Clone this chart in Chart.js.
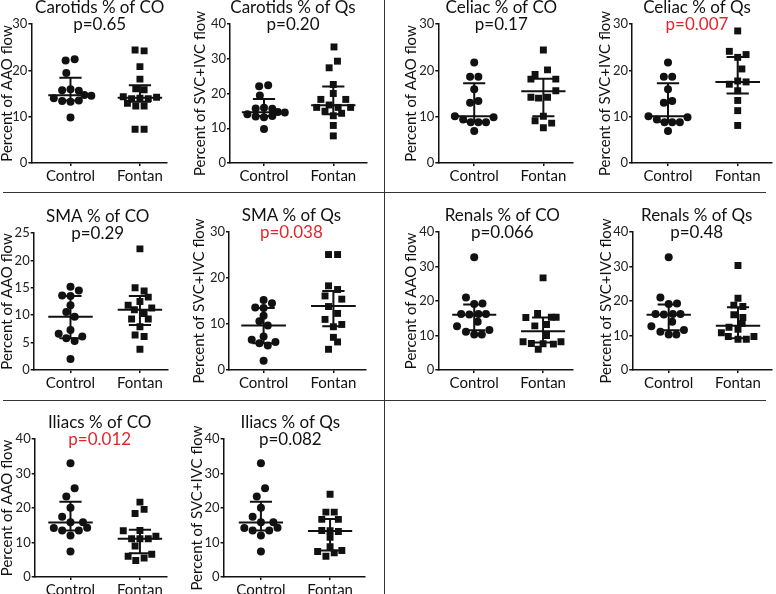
<!DOCTYPE html>
<html>
<head>
<meta charset="utf-8">
<script src="https://cdn.jsdelivr.net/npm/chart.js@4.4.1/dist/chart.umd.min.js"></script>
<style>
  body { margin: 0; background: #fff; width: 776px; height: 594px; overflow: hidden; position: relative; }
  canvas { position: absolute; }
  .sep { position: absolute; background: #333; }
</style>
</head>
<body>
<div class="sep" style="left:3px;top:192px;width:763px;height:1px"></div>
<div class="sep" style="left:3px;top:400px;width:763px;height:1px"></div>
<div class="sep" style="left:384px;top:0;width:1px;height:594px"></div>
<script>
const groups = ['Control', 'Fontan'];

// values; *Jit = horizontal scatter offset, stats = [q1, median, q3]
const carotidCtrl = [22.1, 22.4, 19.4, 15.7, 15.9, 15.6, 14.0, 13.4, 13.2, 13.5, 14.7, 14.5, 9.8];
const carotidCtrlJit = [-0.07, 0.06, -0.06, -0.12, 0, 0.12, -0.24, -0.12, 0, 0.12, 0.2, 0.3, 0];
const carotidCtrlStats = [13.5, 14.6, 18.4];
const carotidFonCO = [24.4, 24.2, 20.8, 18.1, 16.0, 15.8, 14.3, 13.9, 14.0, 13.9, 14.2, 12.9, 12.3, 12.3, 7.3, 7.3];
const carotidFonCOJit = [-0.07, 0.06, 0, 0, -0.06, 0.06, -0.24, -0.12, 0, 0.12, 0.24, -0.18, -0.06, 0.06, -0.07, 0.06];
const carotidFonCOStats = [13.2, 14.1, 16.8];
const carotidFonQs = [33.4, 29.3, 27.4, 22.6, 20.0, 18.3, 18.3, 16.0, 16.7, 16.0, 16.0, 14.9, 13.6, 14.3, 10.8, 7.8];
const carotidFonQsJit = [0.01, 0.06, -0.06, 0, 0, -0.18, 0.18, -0.24, -0.06, 0.07, 0.25, -0.12, 0, 0.12, 0, 0];
const carotidFonQsStats = [14.0, 16.6, 22.0];

const celiacCtrl = [21.7, 18.6, 18.6, 15.9, 13.0, 13.4, 10.1, 9.9, 9.4, 8.8, 8.8, 8.8, 6.9];
const celiacCtrlJit = [0, -0.06, 0.06, 0, -0.06, 0.06, -0.28, 0.28, -0.16, -0.05, 0.06, 0.17, 0];
const celiacCtrlStats = [8.9, 10.1, 17.2];
const celiacFonCO = [24.4, 19.1, 20.1, 18.1, 18.1, 15.6, 14.2, 14.0, 14.2, 10.1, 9.1, 8.6, 7.6];
const celiacFonCOJit = [0, -0.12, 0.06, -0.18, 0.18, 0.18, -0.18, -0.07, 0.06, 0, -0.12, 0.12, 0];
const celiacFonCOStats = [10.1, 15.5, 18.2];
const celiacFonQs = [28.5, 24.1, 23.4, 22.8, 20.3, 17.0, 17.7, 17.5, 15.6, 13.5, 11.3, 8.1];
const celiacFonQsJit = [0, -0.12, 0.12, 0, 0.06, -0.12, 0, 0.12, 0, 0, 0, 0];
const celiacFonQsStats = [15.0, 17.5, 22.9];

const smaCtrl = [15.2, 14.5, 13.6, 13.5, 11.8, 10.6, 9.7, 7.3, 6.6, 5.8, 5.3, 6.1, 2.0];
const smaCtrlJit = [0, 0.12, -0.12, 0, 0, -0.06, 0.06, 0, -0.17, -0.06, 0.06, 0.17, 0];
const smaCtrlStats = [5.8, 9.7, 13.5];
const smaFonCO = [22.1, 15.0, 14.4, 13.3, 12.5, 11.8, 11.3, 11.0, 10.3, 9.3, 9.3, 7.9, 6.4, 6.1, 3.8];
const smaFonCOJit = [0, -0.07, 0.06, 0.12, 0, -0.17, 0.17, -0.08, 0.06, -0.12, 0.12, 0, -0.07, 0.06, 0];
const smaFonCOStats = [8.2, 11.0, 13.5];
const smaFonQs = [25.1, 25.1, 18.3, 17.5, 16.1, 15.4, 13.8, 12.3, 11.0, 9.9, 9.4, 7.1, 6.1, 4.5];
const smaFonQsJit = [-0.07, 0.06, -0.07, 0.06, -0.12, 0.12, -0.07, 0.06, -0.12, 0.12, 0, 0, 0.06, -0.07];
const smaFonQsStats = [9.5, 13.9, 17.2];

const renalCtrl = [32.7, 21.0, 19.1, 19.3, 16.2, 16.1, 16.2, 16.2, 14.0, 12.7, 11.1, 10.3, 10.3, 11.6];
const renalCtrlJit = [0, -0.12, 0, 0.12, -0.19, -0.07, 0.06, 0.17, 0.05, -0.25, -0.12, 0, 0.11, 0.22];
const renalCtrlStats = [11.5, 16.0, 19.0];
const renalFonCO = [26.7, 16.4, 15.2, 15.3, 15.3, 13.2, 12.8, 10.0, 8.2, 7.7, 7.6, 7.5, 8.2, 6.0];
const renalFonCOJit = [0, -0.08, -0.25, 0.12, 0.19, 0.05, -0.12, 0.05, -0.29, -0.17, 0, 0.15, 0.26, -0.07];
const renalFonCOStats = [8.0, 11.2, 15.2];
const renalFonQs = [30.3, 20.8, 18.8, 18.4, 16.0, 15.2, 13.5, 12.4, 11.8, 10.8, 9.7, 8.9, 8.9, 9.7];
const renalFonQsJit = [0, 0, -0.06, 0.07, -0.06, 0.07, 0.06, -0.13, 0, -0.24, -0.14, 0, 0.12, 0.23];
const renalFonQsStats = [9.2, 12.8, 18.2];

const iliacCtrl = [33.0, 25.7, 23.3, 20.1, 17.5, 15.9, 15.9, 14.2, 13.5, 13.5, 14.3, 12.0, 7.4];
const iliacCtrlJit = [0, 0.06, -0.06, 0, -0.12, 0, 0.18, -0.24, -0.12, 0.12, 0.24, 0, 0];
const iliacCtrlStats = [13.5, 15.8, 21.8];
const iliacFonCO = [21.7, 18.4, 19.6, 13.4, 13.5, 11.1, 11.1, 11.1, 11.8, 9.0, 6.0, 5.5, 4.8, 6.6];
const iliacFonCOJit = [0, -0.07, 0.06, -0.24, 0, -0.12, 0, 0.12, 0.23, -0.07, -0.17, 0.06, -0.06, 0.17];
const iliacFonCOStats = [6.9, 11.1, 13.7];
const iliacFonQs = [24.0, 18.8, 18.8, 16.7, 16.7, 13.5, 13.4, 13.2, 11.5, 8.8, 7.4, 7.0, 7.7, 6.0];
const iliacFonQsJit = [0, -0.06, 0.06, -0.12, 0.12, -0.12, 0, 0.12, 0, 0, -0.18, 0.06, 0.17, -0.06];
const iliacFonQsStats = [7.7, 13.3, 16.8];

const FONT = 'Lato, sans-serif';
const INK = '#111';

const panels = [
  { title: 'Carotids % of CO', p: 'p=0.65', sig: false, yTitle: 'Percent of AAO flow', yMax: 30, step: 10,
    c: [carotidCtrl, carotidCtrlJit, carotidCtrlStats], f: [carotidFonCO, carotidFonCOJit, carotidFonCOStats],
    box: { left: 31.7, top: 24, right: 167, bottom: 163, cx: 70.7, fx: 140, yt: 7.3, tx: 100 } },
  { title: 'Carotids % of Qs', p: 'p=0.20', sig: false, yTitle: 'Percent of SVC+IVC flow', yMax: 40, step: 10,
    c: [carotidCtrl, carotidCtrlJit, carotidCtrlStats], f: [carotidFonQs, carotidFonQsJit, carotidFonQsStats],
    box: { left: 230, top: 24, right: 367, bottom: 163, cx: 264, fx: 333.3, yt: 200, tx: 293 } },
  { title: 'Celiac % of CO', p: 'p=0.17', sig: false, yTitle: 'Percent of AAO flow', yMax: 30, step: 10,
    c: [celiacCtrl, celiacCtrlJit, celiacCtrlStats], f: [celiacFonCO, celiacFonCOJit, celiacFonCOStats],
    box: { left: 438, top: 24, right: 573, bottom: 163, cx: 474, fx: 543.3, yt: 410.7, tx: 501 } },
  { title: 'Celiac % of Qs', p: 'p=0.007', sig: true, yTitle: 'Percent of SVC+IVC flow', yMax: 30, step: 10,
    c: [celiacCtrl, celiacCtrlJit, celiacCtrlStats], f: [celiacFonQs, celiacFonQsJit, celiacFonQsStats],
    box: { left: 632, top: 24, right: 772, bottom: 163, cx: 668, fx: 737.7, yt: 605, tx: 697 } },
  { title: 'SMA % of CO', p: 'p=0.29', sig: false, yTitle: 'Percent of AAO flow', yMax: 25, step: 5,
    c: [smaCtrl, smaCtrlJit, smaCtrlStats], f: [smaFonCO, smaFonCOJit, smaFonCOStats],
    box: { left: 34, top: 232.7, right: 168, bottom: 370, cx: 70.7, fx: 140, yt: 7.3, tx: 98 } },
  { title: 'SMA % of Qs', p: 'p=0.038', sig: true, yTitle: 'Percent of SVC+IVC flow', yMax: 30, step: 10,
    c: [smaCtrl, smaCtrlJit, smaCtrlStats], f: [smaFonQs, smaFonQsJit, smaFonQsStats],
    box: { left: 229.3, top: 232, right: 366.7, bottom: 370, cx: 264, fx: 334, yt: 199.3, tx: 291.7 } },
  { title: 'Renals % of CO', p: 'p=0.066', sig: false, yTitle: 'Percent of AAO flow', yMax: 40, step: 10,
    c: [renalCtrl, renalCtrlJit, renalCtrlStats], f: [renalFonCO, renalFonCOJit, renalFonCOStats],
    box: { left: 438, top: 232, right: 573, bottom: 370, cx: 474, fx: 543, yt: 410.7, tx: 502 } },
  { title: 'Renals % of Qs', p: 'p=0.48', sig: false, yTitle: 'Percent of SVC+IVC flow', yMax: 40, step: 10,
    c: [renalCtrl, renalCtrlJit, renalCtrlStats], f: [renalFonQs, renalFonQsJit, renalFonQsStats],
    box: { left: 632.3, top: 232, right: 772, bottom: 370, cx: 668.7, fx: 738, yt: 606, tx: 696.7 } },
  { title: 'Iliacs % of CO', p: 'p=0.012', sig: true, yTitle: 'Percent of AAO flow', yMax: 40, step: 10,
    c: [iliacCtrl, iliacCtrlJit, iliacCtrlStats], f: [iliacFonCO, iliacFonCOJit, iliacFonCOStats],
    box: { left: 35, top: 439, right: 167, bottom: 577.3, cx: 70.7, fx: 140, yt: 7.3, tx: 100 } },
  { title: 'Iliacs % of Qs', p: 'p=0.082', sig: false, yTitle: 'Percent of SVC+IVC flow', yMax: 40, step: 10,
    c: [iliacCtrl, iliacCtrlJit, iliacCtrlStats], f: [iliacFonQs, iliacFonQsJit, iliacFonQsStats],
    box: { left: 223.3, top: 439, right: 365, bottom: 577.3, cx: 260.7, fx: 330, yt: 196.7, tx: 290 } }
];

// title + p value drawn relative to the plot area
const panelTitle = {
  id: 'panelTitle',
  afterDraw(chart, args, o) {
    const { ctx, chartArea: a } = chart;
    const x = a.left + (o.tx - o.left);
    ctx.save();
    ctx.textAlign = 'center';
    ctx.textBaseline = 'middle';
    ctx.font = '17px ' + FONT;
    ctx.fillStyle = INK;
    ctx.fillText(o.text, x, a.top - 16.5);
    ctx.fillStyle = o.sig ? '#e3262c' : INK;
    ctx.fillText(o.p, x, a.top + 0.5);
    ctx.restore();
  }
};

function pts(vals, jit, at) {
  return vals.map((v, i) => ({ x: at + jit[i], y: v }));
}

function bars(at, s) {
  const [q1, med, q3] = s;
  const gap = { x: at, y: null };
  return [
    { x: at - 0.32, y: med }, { x: at + 0.32, y: med }, gap,
    { x: at, y: q1 }, { x: at, y: q3 }, gap,
    { x: at - 0.16, y: q3 }, { x: at + 0.16, y: q3 }, gap,
    { x: at - 0.16, y: q1 }, { x: at + 0.16, y: q1 }
  ];
}

function makePanel(p) {
  const b = p.box;
  const cv = document.createElement('canvas');
  document.body.appendChild(cv);
  const unit = b.fx - b.cx;
  const xMin = 1 - (b.cx - b.left) / unit;
  const xMax = 2 + (b.right - b.fx) / unit;
  const yAxisW = b.left - (b.yt - 9);
  const padTop = 30, padRight = 6, xAxisH = 26;
  const w = Math.round(yAxisW + (b.right - b.left) + padRight);
  const h = Math.round(padTop + (b.bottom - b.top) + xAxisH);
  cv.width = w;
  cv.height = h;

  const lineDs = (data) => ({
    type: 'scatter', data, showLine: true, spanGaps: false,
    borderColor: INK, borderWidth: 2, pointRadius: 0, fill: false
  });

  const chart = new Chart(cv, {
    type: 'scatter',
    data: {
      datasets: [
        { label: groups[0], data: pts(p.c[0], p.c[1], 1), pointStyle: 'circle', pointRadius: 4,
          backgroundColor: INK, borderColor: INK, borderWidth: 0 },
        { label: groups[1], data: pts(p.f[0], p.f[1], 2), pointStyle: 'rect', pointRadius: 4.9,
          backgroundColor: INK, borderColor: INK, borderWidth: 0 },
        lineDs(bars(1, p.c[2])),
        lineDs(bars(2, p.f[2]))
      ]
    },
    options: {
      responsive: false,
      animation: false,
      layout: { padding: { top: padTop, right: padRight, left: 0, bottom: 0 } },
      plugins: {
        legend: { display: false },
        tooltip: { enabled: false },
        panelTitle: { text: p.title, p: p.p, sig: p.sig, tx: b.tx, left: b.left }
      },
      scales: {
        x: {
          type: 'linear', min: xMin, max: xMax,
          afterBuildTicks: (s) => { s.ticks = [{ value: 1 }, { value: 2 }]; },
          afterFit: (s) => { s.height = xAxisH; },
          ticks: { callback: (v) => groups[v - 1], color: INK, padding: 1, autoSkip: false, maxRotation: 0,
                   font: { family: FONT, size: 15 } },
          grid: { drawOnChartArea: false, tickLength: 3, color: INK, lineWidth: 1.5 },
          border: { color: INK, width: 1.5 }
        },
        y: {
          min: 0, max: p.yMax,
          afterFit: (s) => { s.width = yAxisW; },
          ticks: { stepSize: p.step, color: '#222', padding: 1, font: { family: FONT, size: 13 } },
          grid: { drawOnChartArea: false, tickLength: 3, color: INK, lineWidth: 1.5 },
          border: { color: INK, width: 1.5 },
          title: { display: true, text: p.yTitle, color: INK, padding: 0, font: { family: FONT, size: 15 } }
        }
      }
    },
    plugins: [panelTitle]
  });

  // fit the plot area to the box measured on the figure
  let a = chart.chartArea;
  const dw = (b.right - b.left) - (a.right - a.left);
  const dh = (b.bottom - b.top) - (a.bottom - a.top);
  if (Math.abs(dw) > 0.5 || Math.abs(dh) > 0.5) {
    chart.resize(Math.round(w + dw), Math.round(h + dh));
    a = chart.chartArea;
  }
  cv.style.left = (b.left - a.left) + 'px';
  cv.style.top = (b.top - a.top) + 'px';
}

panels.forEach(makePanel);
</script>
</body>
</html>
